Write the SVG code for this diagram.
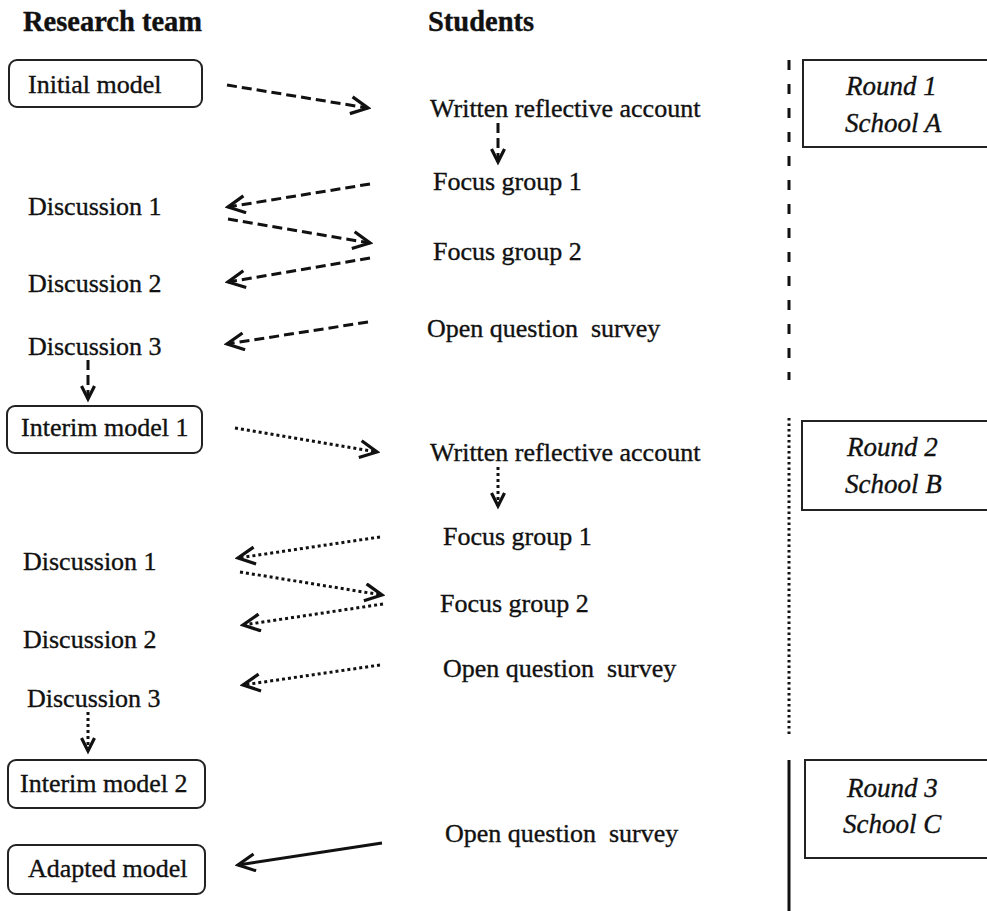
<svg xmlns="http://www.w3.org/2000/svg" width="987" height="911" viewBox="0 0 987 911">
<defs>
<style>
text{font-family:"Liberation Serif","Times New Roman",serif;fill:#111;stroke:#111;stroke-width:0.35;font-size:26px}
.h{font-weight:bold;font-size:28.5px}
.it{font-style:italic;font-size:27px}
.box{fill:#fff;stroke:#222;stroke-width:2}
.rbox{fill:#fff;stroke:#222;stroke-width:2}
.c{fill:none;stroke:#111;stroke-width:3}
.dash{stroke-dasharray:10 5}
.dot{stroke-dasharray:3 3}
</style>
<marker id="chev" markerUnits="userSpaceOnUse" markerWidth="22" markerHeight="22" refX="19" refY="10" orient="auto" viewBox="0 0 22 22">
<path d="M2,1.5 L19,10 L2,18.5" fill="none" stroke="#111" stroke-width="3.2" stroke-linejoin="miter"/>
</marker>
<marker id="chevs" markerUnits="userSpaceOnUse" markerWidth="20" markerHeight="20" refX="15" refY="8" orient="auto" viewBox="0 0 20 20">
<path d="M2,1.5 L15,8 L2,14.5" fill="none" stroke="#111" stroke-width="3.2"/>
</marker>
</defs>
<rect width="987" height="911" fill="#fff"/>

<g id="headings">
<text class="h" x="23" y="31">Research team</text>
<text class="h" x="428" y="31">Students</text>
</g>

<g id="n-initial"><rect class="box" x="9" y="60" width="193" height="47" rx="8"/><text x="28" y="93">Initial model</text></g>
<g id="n-disc1a"><text x="28" y="215">Discussion 1</text></g>
<g id="n-disc2a"><text x="28" y="292">Discussion 2</text></g>
<g id="n-disc3a"><text x="28" y="355">Discussion 3</text></g>
<g id="n-interim1"><rect class="box" x="7" y="406" width="195" height="47" rx="8"/><text x="21" y="436">Interim model 1</text></g>
<g id="n-disc1b"><text x="23" y="570">Discussion 1</text></g>
<g id="n-disc2b"><text x="23" y="648">Discussion 2</text></g>
<g id="n-disc3b"><text x="27" y="707">Discussion 3</text></g>
<g id="n-interim2"><rect class="box" x="8" y="760" width="197" height="48" rx="8"/><text x="20" y="792">Interim model 2</text></g>
<g id="n-adapted"><rect class="box" x="8" y="845" width="197" height="49" rx="8"/><text x="28" y="877">Adapted model</text></g>

<g id="s-wra"><text x="430" y="117">Written reflective account</text></g>
<g id="s-fg1a"><text x="433" y="190">Focus group 1</text></g>
<g id="s-fg2a"><text x="433" y="260">Focus group 2</text></g>
<g id="s-oqsa"><text x="427" y="337">Open question&#160; survey</text></g>
<g id="s-wrb"><text x="430" y="461">Written reflective account</text></g>
<g id="s-fg1b"><text x="443" y="545">Focus group 1</text></g>
<g id="s-fg2b"><text x="440" y="612">Focus group 2</text></g>
<g id="s-oqsb"><text x="443" y="677">Open question&#160; survey</text></g>
<g id="s-oqsc"><text x="445" y="842">Open question&#160; survey</text></g>

<g id="round1"><rect class="rbox" x="803" y="60" width="200" height="87"/><text class="it" x="846" y="95">Round 1</text><text class="it" x="845" y="132">School A</text></g>
<g id="round2"><rect class="rbox" x="802" y="421" width="200" height="89"/><text class="it" x="847" y="456">Round 2</text><text class="it" x="845" y="493">School B</text></g>
<g id="round3"><rect class="rbox" x="805" y="760" width="200" height="98"/><text class="it" x="847" y="797">Round 3</text><text class="it" x="843" y="833">School C</text></g>

<g id="dividers">
<line class="c" x1="789" y1="60" x2="789" y2="380" style="stroke-dasharray:10 14"/>
<line class="c" x1="789" y1="418" x2="789" y2="737" style="stroke-dasharray:2.5 3"/>
<line class="c" x1="789" y1="760" x2="789" y2="911"/>
</g>

<g id="connectors">
<line class="c dash" x1="227" y1="85" x2="368" y2="108" marker-end="url(#chev)"/>
<line class="c dash" x1="498" y1="123" x2="498" y2="162" marker-end="url(#chevs)"/>
<line class="c dash" x1="370" y1="184" x2="228" y2="207" marker-end="url(#chev)"/>
<line class="c dash" x1="228" y1="219" x2="370" y2="243" marker-end="url(#chev)"/>
<line class="c dash" x1="370" y1="258" x2="228" y2="282" marker-end="url(#chev)"/>
<line class="c dash" x1="368" y1="322" x2="227" y2="344" marker-end="url(#chev)"/>
<line class="c dash" x1="88" y1="360" x2="88" y2="399" marker-end="url(#chevs)"/>

<line class="c dot" x1="235" y1="428" x2="377" y2="452" marker-end="url(#chev)"/>
<line class="c dot" x1="498" y1="467" x2="498" y2="506" marker-end="url(#chevs)"/>
<line class="c dot" x1="380" y1="537" x2="238" y2="558" marker-end="url(#chev)"/>
<line class="c dot" x1="240" y1="572" x2="382" y2="595" marker-end="url(#chev)"/>
<line class="c dot" x1="383" y1="604" x2="243" y2="625" marker-end="url(#chev)"/>
<line class="c dot" x1="380" y1="665" x2="243" y2="685" marker-end="url(#chev)"/>
<line class="c dot" x1="88" y1="712" x2="88" y2="751" marker-end="url(#chevs)"/>

<line class="c" x1="382" y1="843" x2="238" y2="865" marker-end="url(#chev)"/>
</g>
</svg>
